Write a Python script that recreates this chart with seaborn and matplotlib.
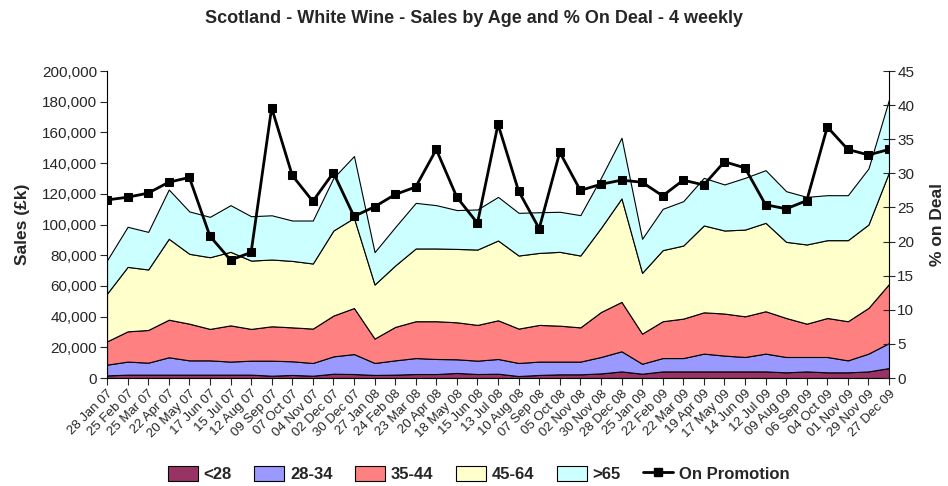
import numpy as np
import pandas as pd
import matplotlib
matplotlib.use("Agg")
import matplotlib.pyplot as plt
import seaborn as sns
from matplotlib.patches import Patch
from matplotlib.lines import Line2D
from matplotlib.ticker import FuncFormatter, MultipleLocator

periods = ["28 Jan 07", "25 Feb 07", "25 Mar 07", "22 Apr 07", "20 May 07", "17 Jun 07",
           "15 Jul 07", "12 Aug 07", "09 Sep 07", "07 Oct 07", "04 Nov 07", "02 Dec 07",
           "30 Dec 07", "27 Jan 08", "24 Feb 08", "23 Mar 08", "20 Apr 08", "18 May 08",
           "15 Jun 08", "13 Jul 08", "10 Aug 08", "07 Sep 08", "05 Oct 08", "02 Nov 08",
           "30 Nov 08", "28 Dec 08", "25 Jan 09", "22 Feb 09", "22 Mar 09", "19 Apr 09",
           "17 May 09", "14 Jun 09", "12 Jul 09", "09 Aug 09", "06 Sep 09", "04 Oct 09",
           "01 Nov 09", "29 Nov 09", "27 Dec 09"]

age_lt28 = [1700, 2200, 2200, 2200, 2200, 2200, 2200, 2200, 1500, 2000, 1500, 2800, 2600,
            2000, 2200, 2600, 2600, 3300, 2600, 2800, 1300, 2000, 2400, 2400, 3000, 4300,
            2800, 4300, 4300, 4300, 4300, 4300, 4300, 3700, 4300, 3700, 3700, 4300, 6500]
age_28_34 = [7000, 8500, 7800, 11300, 9300, 9300, 8500, 9100, 9800, 8900, 8300, 11300, 13000,
             7800, 9300, 10400, 9800, 8900, 8700, 9600, 8500, 8700, 8300, 8300, 10700, 13100,
             6500, 8700, 8700, 11600, 10300, 9400, 11600, 10000, 9400, 10000, 7800, 11600, 16300]
age_35_44 = [15200, 19700, 21300, 24500, 23900, 20500, 23600, 20700, 22400, 22100, 22400, 26600, 30000,
             15900, 21800, 24000, 24600, 24100, 23300, 25200, 22400, 23900, 23400, 22300, 29300, 32200,
             19600, 24000, 25700, 26900, 27400, 26500, 27600, 25400, 21700, 25400, 25500, 29800, 38500]
age_45_64 = [31100, 42000, 39400, 52700, 45500, 46700, 47900, 44500, 43500, 43300, 42400, 55400, 58700,
             35200, 40000, 47400, 47400, 47800, 49100, 52000, 47600, 46900, 48100, 46800, 54800, 67400,
             39600, 46300, 47600, 56600, 54100, 56500, 57600, 49600, 51600, 50700, 52800, 54300, 72800]
age_gt65 = [21700, 26100, 24500, 32100, 27600, 26300, 30400, 28900, 28800, 26300, 28000, 34300, 40300,
            21100, 25000, 29700, 28200, 25300, 26100, 28400, 27800, 26500, 26100, 26300, 32600, 39500,
            22200, 26900, 28900, 31000, 30000, 33700, 34300, 33000, 31000, 29300, 29300, 36500, 47400]
on_promotion = [26.1, 26.5, 27.1, 28.7, 29.4, 20.8, 17.3, 18.4, 39.6, 29.7, 25.9, 30.1, 23.7,
                25.1, 26.9, 28.0, 33.5, 26.5, 22.7, 37.2, 27.4, 21.9, 33.1, 27.5, 28.4, 29.0,
                28.7, 26.7, 29.0, 28.3, 31.7, 30.8, 25.4, 24.8, 26.0, 36.8, 33.5, 32.7, 33.5]

series_names = ["<28", "28-34", "35-44", "45-64", ">65"]
colors = ["#993366", "#9999FF", "#FF8080", "#FFFFCC", "#CCFFFF"]

sns.set_theme(style="white")
plt.rcParams["font.family"] = ["Liberation Sans", "DejaVu Sans"]

df = pd.DataFrame({"period": periods, "idx": np.arange(len(periods)),
                   "<28": age_lt28, "28-34": age_28_34, "35-44": age_35_44,
                   "45-64": age_45_64, ">65": age_gt65, "promo": on_promotion})

fig = plt.figure(figsize=(9.48, 4.86), dpi=100)
ax = fig.add_axes([0.1129, 0.2222, 0.8249, 0.6317])

ax.stackplot(df["idx"], [df[s] for s in series_names], colors=colors,
             edgecolor="black", linewidth=0.8)
ax.set_xlim(0, len(periods) - 1)
ax.set_ylim(0, 200000)
ax.yaxis.set_major_locator(MultipleLocator(20000))
ax.yaxis.set_major_formatter(FuncFormatter(lambda v, p: f"{int(v):,}"))
ax.set_xticks(df["idx"])
ax.set_xticklabels(periods, rotation=45, ha="right", rotation_mode="anchor", fontsize=9.5)
ax.tick_params(axis="y", labelsize=11, direction="out", length=5, width=0.8, left=True, pad=2)
ax.tick_params(axis="x", direction="out", length=5, width=0.8, bottom=True, pad=2)
ax.set_ylabel("Sales (£k)", fontsize=12.5, fontweight="bold", labelpad=9)
for s in ["top", "right"]:
    ax.spines[s].set_visible(False)
for s in ["left", "bottom"]:
    ax.spines[s].set_color("black")
    ax.spines[s].set_linewidth(0.8)

ax2 = ax.twinx()
sns.lineplot(data=df, x="idx", y="promo", ax=ax2, color="black", linewidth=2,
             marker="s", markersize=6, markeredgecolor="black", legend=False)
ax2.set_ylim(0, 45)
ax2.set_xlim(0, len(periods) - 1)
ax2.yaxis.set_major_locator(MultipleLocator(5))
ax2.tick_params(axis="y", labelsize=11, direction="inout", length=8, width=0.8, right=True, pad=2)
ax2.set_ylabel("% on Deal", fontsize=12.5, fontweight="bold", labelpad=11, rotation=90)
ax2.set_xlabel("")
for s in ["top", "left", "bottom"]:
    ax2.spines[s].set_visible(False)
ax2.spines["right"].set_color("black")
ax2.spines["right"].set_linewidth(0.8)

fig.suptitle("Scotland - White Wine - Sales by Age and % On Deal - 4 weekly",
             fontsize=13, fontweight="bold", y=0.98)

handles = [Patch(facecolor=c, edgecolor="black", linewidth=0.8, label=n)
           for c, n in zip(colors, series_names)]
handles.append(Line2D([0], [0], color="black", linewidth=2, marker="s", markersize=6,
                      label="On Promotion"))
fig.legend(handles=handles, loc="center", bbox_to_anchor=(0.505, 0.025), ncol=6,
           frameon=False, prop={"weight": "bold", "size": 12}, handlelength=1.8,
           handleheight=1.0, columnspacing=1.35, handletextpad=0.35)

fig.savefig("out.png", dpi=100)
